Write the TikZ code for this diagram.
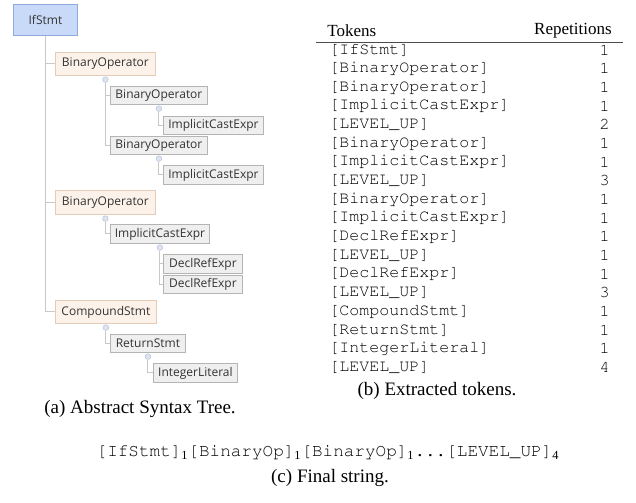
\documentclass[tikz,border=0pt]{standalone}
\usepackage[T1,TU]{fontenc}
\usepackage{fontspec}
\setmainfont{Liberation Serif}
\newfontfamily\astfont{Open Sans}
\newcommand{\courier}{\fontencoding{T1}\fontfamily{pcr}\selectfont}
\usetikzlibrary{positioning}

\definecolor{ifblue}{HTML}{C9DAF8}
\definecolor{ifborder}{HTML}{8FAADC}
\definecolor{stmtfill}{HTML}{FDF2E9}
\definecolor{stmtborder}{HTML}{E3CDB8}
\definecolor{exprfill}{HTML}{EFEFEF}
\definecolor{exprborder}{HTML}{B4B4B4}
\definecolor{connline}{HTML}{C8C8C8}
\definecolor{togglefill}{HTML}{DDE4F0}
\definecolor{toggleborder}{HTML}{B5C3DA}
\definecolor{asttext}{HTML}{333333}

% one box of the tree: name, style, x1, y1, x2, y2 (in px), label
\newcommand{\astbox}[7]{%
  \node[#2, minimum width={(#5-#3)*0.6pt}, minimum height={(#6-#4)*0.6pt}] (#1) at (#3,#4) {#7};}

\tikzset{
  astnode/.style={draw, anchor=north west, inner sep=0pt, line width=0.5pt,
    font=\astfont\fontsize{7.2}{8}\selectfont, text=asttext},
  rootnode/.style={astnode, fill=ifblue, draw=ifborder},
  stmtnode/.style={astnode, fill=stmtfill, draw=stmtborder},
  exprnode/.style={astnode, fill=exprfill, draw=exprborder},
  conn/.style={draw=connline, line width=0.6pt},
  toggle/.style={circle, draw=toggleborder, fill=togglefill, line width=0.3pt,
    inner sep=0pt, minimum size=3.4pt},
  tok/.style={anchor=west, inner sep=0pt, font=\courier\fontsize{10}{12}\selectfont},
  reps/.style={anchor=east, inner sep=0pt, font=\courier\fontsize{10}{12}\selectfont},
  head/.style={inner sep=0pt, font=\fontsize{10.2}{12}\selectfont},
  caption/.style={inner sep=0pt, font=\fontsize{11.4}{13}\selectfont}
}

\begin{document}
\begin{tikzpicture}[x=0.6pt, y=-0.6pt]
  \useasboundingbox (0,0) rectangle (636,502);

  % (a) the tree
  \astbox{ifstmt}{rootnode}{13}{4}{77}{35}{IfStmt}
  \astbox{binop1}{stmtnode}{55}{52}{155}{75}{BinaryOperator}
  \astbox{binop2}{exprnode}{110}{86}{207}{104}{BinaryOperator}
  \astbox{cast1}{exprnode}{163}{116}{263}{134}{ImplicitCastExpr}
  \astbox{binop3}{exprnode}{110}{136}{207}{154}{BinaryOperator}
  \astbox{cast2}{exprnode}{163}{165}{263}{184}{ImplicitCastExpr}
  \astbox{binop4}{stmtnode}{55}{190}{155}{214}{BinaryOperator}
  \astbox{cast3}{exprnode}{110}{224}{209}{243}{ImplicitCastExpr}
  \astbox{declref1}{exprnode}{163}{254}{242}{273}{DeclRefExpr}
  \astbox{declref2}{exprnode}{163}{275}{242}{293}{DeclRefExpr}
  \astbox{compound}{stmtnode}{55}{300}{156}{323}{CompoundStmt}
  \astbox{retstmt}{exprnode}{110}{334}{185}{352}{ReturnStmt}
  \astbox{intlit}{exprnode}{153}{363}{237}{382}{IntegerLiteral}

  \foreach \parent in {binop1, binop2, binop3, binop4, cast3, compound, retstmt}
    \node[toggle, below=0.4pt of \parent.south] (tg-\parent) {};

  \draw[conn] (ifstmt.south) |- (binop1.west);
  \draw[conn] (ifstmt.south) |- (binop4.west);
  \draw[conn] (ifstmt.south) |- (compound.west);
  \draw[conn] (tg-binop1) |- (binop2.west);
  \draw[conn] (tg-binop1) |- (binop3.west);
  \draw[conn] (tg-binop2) |- (cast1.west);
  \draw[conn] (tg-binop3) |- (cast2.west);
  \draw[conn] (tg-binop4) |- (cast3.west);
  \draw[conn] (tg-cast3) |- (declref1.west);
  \draw[conn] (tg-cast3) |- (declref2.west);
  \draw[conn] (tg-compound) |- (retstmt.west);
  \draw[conn] (tg-retstmt) |- (intlit.west);

  \node[caption] (capa) at (140,409) {(a) Abstract Syntax Tree.};

  % (b) the tokens
  \node[head, anchor=west] (tokhead) at (327,31) {Tokens};
  \node[head, anchor=east] (rephead) at (612,31) {Repetitions};
  \draw[line width=0.6pt, black!70] (316,42) -- (623,42);
  \foreach \tokname/\count [count=\i] in {IfStmt/1, BinaryOperator/1, BinaryOperator/1,
      ImplicitCastExpr/1, LEVEL\_UP/2, BinaryOperator/1, ImplicitCastExpr/1, LEVEL\_UP/3,
      BinaryOperator/1, ImplicitCastExpr/1, DeclRefExpr/1, LEVEL\_UP/1, DeclRefExpr/1,
      LEVEL\_UP/3, CompoundStmt/1, ReturnStmt/1, IntegerLiteral/1, LEVEL\_UP/4} {
    \node[tok] (tok\i) at (329, {50+18.65*(\i-1)}) {[\tokname]};
    \node[reps] (rep\i) at (610, {50+18.65*(\i-1)}) {\count};
  }

  \node[caption] (capb) at (437,391) {(b) Extracted tokens.};

  % (c) the string
  \node[inner sep=0pt, font=\courier\fontsize{10.6}{12}\selectfont] (final) at (328,452)
    {[IfStmt]\textsubscript{\rmfamily 1}[BinaryOp]\textsubscript{\rmfamily 1}[BinaryOp]\textsubscript{\rmfamily 1}...[LEVEL\_UP]\textsubscript{\rmfamily 4}};
  \node[caption] (capc) at (330,478) {(c) Final string.};
\end{tikzpicture}
\end{document}
